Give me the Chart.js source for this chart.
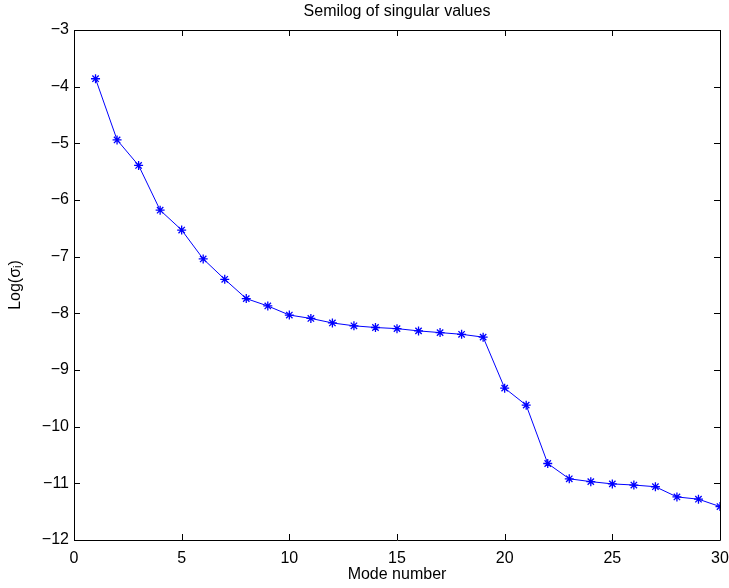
<!DOCTYPE html>
<html>
<head>
<meta charset="utf-8">
<script src="https://cdn.jsdelivr.net/npm/chart.js@4/dist/chart.umd.min.js"></script>
<style>
html,body{margin:0;padding:0;background:#fff;}
#wrap{width:729px;height:588px;}
</style>
</head>
<body>
<div id="wrap"><canvas id="c" width="729" height="588"></canvas></div>
<script>
const modeNumbers = [1,2,3,4,5,6,7,8,9,10,11,12,13,14,15,16,17,18,19,20,21,22,23,24,25,26,27,28,29,30];
const logSigma = [-3.86,-4.94,-5.39,-6.18,-6.53,-7.04,-7.40,-7.74,-7.87,-8.03,-8.09,-8.17,-8.22,-8.25,-8.27,-8.31,-8.34,-8.37,-8.42,-9.32,-9.62,-10.65,-10.92,-10.97,-11.01,-11.03,-11.06,-11.24,-11.28,-11.41];
const xTickValues = [0,5,10,15,20,25,30];
const yTickValues = [-12,-11,-10,-9,-8,-7,-6,-5,-4,-3];
const chartTitle = 'Semilog of singular values';
const xTitle = 'Mode number';
const yTitle = 'Log(σᵢ)';

const FONT = "'Liberation Sans', Arial, Helvetica, sans-serif";
const FS = 16;

const points = modeNumbers.map((m, i) => ({x: m, y: logSigma[i]}));

const frame = {
  id: 'matlabFrame',
  afterDraw(chart) {
    const ctx = chart.ctx;
    const a = chart.chartArea;
    const xs = chart.scales.x, ys = chart.scales.y;
    ctx.save();
    ctx.strokeStyle = '#000';
    ctx.lineWidth = 1;
    ctx.beginPath();
    ctx.rect(Math.round(a.left) + 0.5, Math.round(a.top) + 0.5, Math.round(a.right - a.left), Math.round(a.bottom - a.top));
    ctx.stroke();
    const L = 6;
    ctx.beginPath();
    xs.ticks.forEach(t => {
      const px = Math.round(xs.getPixelForValue(t.value)) + 0.5;
      ctx.moveTo(px, a.bottom); ctx.lineTo(px, a.bottom - L);
      ctx.moveTo(px, a.top); ctx.lineTo(px, a.top + L);
    });
    ys.ticks.forEach(t => {
      const py = Math.round(ys.getPixelForValue(t.value)) + 0.5;
      ctx.moveTo(a.left, py); ctx.lineTo(a.left + L, py);
      ctx.moveTo(a.right, py); ctx.lineTo(a.right - L, py);
    });
    ctx.stroke();
    ctx.fillStyle = '#000';
    ctx.font = FS + 'px ' + FONT;
    ctx.textAlign = 'center';
    ctx.textBaseline = 'middle';
    ctx.fillText(chartTitle, (a.left + a.right) / 2, 12);
    ctx.restore();
  }
};

new Chart(document.getElementById('c'), {
  type: 'line',
  data: {
    datasets: [{
      data: points,
      borderColor: '#0000ff',
      backgroundColor: '#0000ff',
      borderWidth: 1,
      pointStyle: 'star',
      pointRadius: 4.5,
      pointBorderWidth: 1.3,
      pointBorderColor: '#0000ff',
      tension: 0,
      fill: false
    }]
  },
  plugins: [frame],
  options: {
    responsive: false,
    animation: false,
    devicePixelRatio: 1,
    layout: {padding: {top: 30, right: 9, left: 0, bottom: 0}},
    plugins: {legend: {display: false}, title: {display: false}, tooltip: {enabled: false}},
    scales: {
      x: {
        type: 'linear', min: 0, max: 30,
        afterBuildTicks(s) { s.ticks = xTickValues.map(v => ({value: v})); },
        afterFit(s) { s.height = 48; s.paddingLeft = 0; s.paddingRight = 0; },
        grid: {display: false, drawTicks: false, tickLength: 0},
        border: {display: false},
        ticks: {
          autoSkip: false, maxRotation: 0, padding: 9,
          color: '#000', font: {family: FONT, size: FS},
          callback: v => String(v).replace('-', '\u2212')
        },
        title: {display: true, text: xTitle, color: '#000', font: {family: FONT, size: FS}, padding: {top: 0, bottom: 4}}
      },
      y: {
        type: 'linear', min: -12, max: -3,
        afterBuildTicks(s) { s.ticks = yTickValues.map(v => ({value: v})); },
        afterFit(s) { s.width = 74; s.paddingTop = 0; s.paddingBottom = 0; },
        grid: {display: false, drawTicks: false, tickLength: 0},
        border: {display: false},
        ticks: {
          autoSkip: false, padding: 5,
          color: '#000', font: {family: FONT, size: FS},
          callback: v => String(v).replace('-', '\u2212')
        },
        title: {display: true, text: yTitle, color: '#000', font: {family: FONT, size: FS}, padding: {top: 6, bottom: 0}}
      }
    }
  }
});
</script>
</body>
</html>
